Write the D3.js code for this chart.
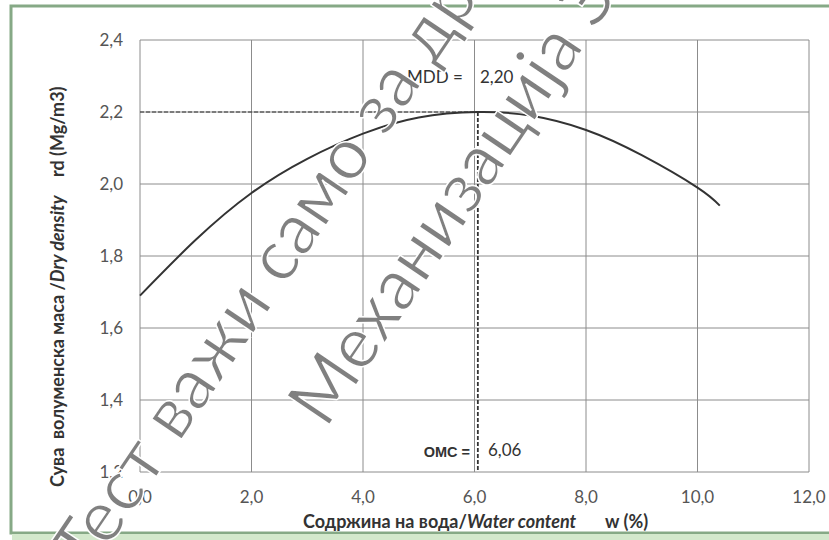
<!DOCTYPE html>
<html>
<head>
<meta charset="utf-8">
<script src="https://cdn.jsdelivr.net/npm/d3@7"></script>
<style>
  body { margin: 0; background: #fff; }
  svg { display: block; }
</style>
</head>
<body>
<svg></svg>
<script>

// values
const xTicks = [0, 2, 4, 6, 8, 10, 12];
const yTicks = [1.2, 1.4, 1.6, 1.8, 2.0, 2.2, 2.4];
const waterContent = [0, 1, 2, 3, 4, 5, 6.06, 7, 8, 9, 10, 10.4];
const dryDensity = [1.69, 1.845, 1.975, 2.07, 2.14, 2.185, 2.2, 2.19, 2.15, 2.08, 1.99, 1.94];
const mdd = 2.20;
const omc = 6.06;
const watermark = ["Тест важи само за др", "Механизација З"];

const svg = d3.select("svg");
const svg_width = 829;
const svg_height = 540;

svg.attr("width", svg_width)
    .attr("height", svg_height);

const plot = {left: 140, right: 809, top: 40, bottom: 472};

const x = d3.scaleLinear().domain([0, 12]).range([plot.left, plot.right]);
const y = d3.scaleLinear().domain([1.2, 2.4]).range([plot.bottom, plot.top]);

const comma = (d)=> d3.format(".1f")(d).replace(".", ",");

// green frame of the scanned sheet
svg.append("rect")
    .attr("x", 11)
    .attr("y", 6)
    .attr("width", 840)
    .attr("height", 527)
    .attr("fill", "none")
    .attr("stroke", "#86a986")
    .attr("stroke-width", 3);
svg.append("rect")
    .attr("x", 12)
    .attr("y", 534)
    .attr("width", 817)
    .attr("height", 6)
    .attr("fill", "#d3e8cc");

// grid
const grid = svg.append("g").attr("class", "grid");
grid.selectAll("line.v")
    .data(xTicks)
    .join("line")
    .attr("class", "v")
    .attr("x1", d=> x(d))
    .attr("x2", d=> x(d))
    .attr("y1", plot.top)
    .attr("y2", plot.bottom)
    .attr("stroke", "#8c8c8c");
grid.selectAll("line.h")
    .data(yTicks)
    .join("line")
    .attr("class", "h")
    .attr("y1", d=> y(d))
    .attr("y2", d=> y(d))
    .attr("x1", plot.left)
    .attr("x2", plot.right)
    .attr("stroke", "#8c8c8c");

// tick labels
svg.append("g")
    .selectAll("text")
    .data(yTicks)
    .join("text")
    .attr("x", 123)
    .attr("y", d=> y(d))
    .attr("dy", "0.35em")
    .attr("text-anchor", "end")
    .attr("font-family", "Lato, sans-serif")
    .attr("font-size", 17)
    .attr("fill", "#555")
    .text(comma);

svg.append("g")
    .selectAll("text")
    .data(xTicks)
    .join("text")
    .attr("x", d=> x(d))
    .attr("y", 503)
    .attr("text-anchor", "middle")
    .attr("font-family", "Lato, sans-serif")
    .attr("font-size", 17)
    .attr("fill", "#555")
    .text(comma);

// MDD / OMC guides
svg.append("line")
    .attr("x1", x(0))
    .attr("x2", x(omc))
    .attr("y1", y(mdd))
    .attr("y2", y(mdd))
    .attr("stroke", "#333")
    .attr("stroke-width", 1.2)
    .attr("stroke-dasharray", "4,2");
svg.append("line")
    .attr("x1", x(omc))
    .attr("x2", x(omc))
    .attr("y1", y(mdd))
    .attr("y2", y(1.2))
    .attr("stroke", "#333")
    .attr("stroke-width", 1.8)
    .attr("stroke-dasharray", "4,2");

// compaction curve
const line = d3.line()
    .x((d, i)=> x(waterContent[i]))
    .y(d=> y(d))
    .curve(d3.curveNatural);

svg.append("path")
    .datum(dryDensity)
    .attr("d", line)
    .attr("fill", "none")
    .attr("stroke", "#333")
    .attr("stroke-width", 2);

// annotations
svg.append("text")
    .attr("x", 407)
    .attr("y", 83)
    .attr("font-family", "Lato, sans-serif")
    .attr("font-size", 17)
    .attr("fill", "#333")
    .text("MDD =");
svg.append("text")
    .attr("x", 480)
    .attr("y", 83)
    .attr("font-family", "Lato, sans-serif")
    .attr("font-size", 17)
    .attr("fill", "#333")
    .text(comma(mdd) + "0");

svg.append("text")
    .attr("x", 470)
    .attr("y", 457)
    .attr("text-anchor", "end")
    .attr("font-family", "Liberation Sans, Arial, sans-serif")
    .attr("font-size", 14.5)
    .attr("font-weight", "bold")
    .attr("fill", "#333")
    .text("OMC =");
svg.append("text")
    .attr("x", 488)
    .attr("y", 456)
    .attr("font-family", "Lato, sans-serif")
    .attr("font-size", 17)
    .attr("fill", "#333")
    .text(String(omc).replace(".", ","));

// axis titles
const xTitle = svg.append("text")
    .attr("x", 303)
    .attr("y", 528)
    .attr("font-family", "Lato, sans-serif")
    .attr("font-size", 18)
    .attr("font-weight", "bold")
    .attr("fill", "#333");
xTitle.append("tspan").text("Содржина на вода/");
xTitle.append("tspan").attr("font-style", "italic").text("Water content");
xTitle.append("tspan").attr("x", 605).text("w (%)");

const yTitle = svg.append("text")
    .attr("transform", "translate(64, 487) rotate(-90)")
    .attr("font-family", "Lato, sans-serif")
    .attr("font-size", 18)
    .attr("font-weight", "bold")
    .attr("fill", "#333");
yTitle.append("tspan").text("Сува\u00a0\u00a0волуменска маса /");
yTitle.append("tspan").attr("font-style", "italic").text("Dry density");
yTitle.append("tspan").attr("x", 310).text("rd (Mg/m3)");

// watermark (thin grey letters over the chart)
svg.append("g")
    .selectAll("text")
    .data(watermark)
    .join("text")
    .attr("transform", (d, i)=> i === 0 ? "translate(89, 577) rotate(-56)" : "translate(326, 430) rotate(-56)")
    .attr("font-family", "Lato, sans-serif")
    .attr("font-size", 72)
    .attr("fill", "#808080")
    .attr("stroke", "#fff")
    .attr("stroke-width", 1.5)
    .text(d=> d);

</script>
</body>
</html>
